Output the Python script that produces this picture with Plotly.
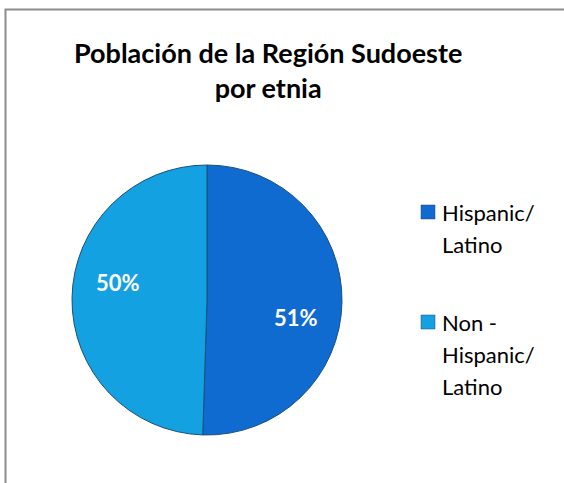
import math
import plotly.graph_objects as go

# ---- data ----
categories = ["Hispanic/Latino", "Non - Hispanic/Latino"]
legend_labels = ["Hispanic/<br>Latino", "Non -<br>Hispanic/<br>Latino"]
values = [50.5, 49.5]
pct_labels = ["51%", "50%"]
colors = ["#0F6BD0", "#14A1E2"]
title_text = "Población de la Región Sudoeste<br>por etnia"

W, H = 564, 483

# pie geometry (pixels)
cx, cy, R = 207, 300, 135

fig = go.Figure()
fig.add_trace(go.Pie(
    labels=categories,
    values=values,
    textinfo="none",
    marker=dict(colors=colors, line=dict(color="#1B4F7E", width=1)),
    sort=False,
    direction="clockwise",
    rotation=0,
    showlegend=False,
    hoverinfo="label+percent",
    domain=dict(x=[(cx - R) / W, (cx + R) / W], y=[1 - (cy + R) / H, 1 - (cy - R) / H]),
))

# slice labels placed along each slice's bisector
total = sum(values)
cum = 0.0
for v, txt in zip(values, pct_labels):
    mid = (cum + v / 2) / total * 360 + 10  # degrees clockwise from 12 o'clock
    cum += v
    rr = 0.67 * R
    px = cx + rr * math.sin(math.radians(mid))
    py = cy - rr * math.cos(math.radians(mid))
    fig.add_annotation(text="<b>" + txt + "</b>", xref="paper", yref="paper",
                       x=px / W, y=1 - py / H, xanchor="center", yanchor="middle",
                       showarrow=False,
                       font=dict(family="Lato", size=22, color="white"))

# frame
fig.add_shape(type="rect", xref="paper", yref="paper",
              x0=5.5 / W, x1=1.02, y0=-0.02, y1=1 - 9.5 / H,
              line=dict(color="#8C8C8C", width=2), fillcolor="rgba(0,0,0,0)")

# title
fig.add_annotation(text="<b>" + title_text + "</b>", xref="paper", yref="paper",
                   x=268 / W, y=1 - 70 / H, xanchor="center", yanchor="middle",
                   showarrow=False, align="center",
                   font=dict(family="Lato", size=27, color="black"))

# legend (manual)
legend_top = [212, 322]
line_gap = 32
for i, lab in enumerate(legend_labels):
    y0 = legend_top[i]
    fig.add_shape(type="rect", xref="paper", yref="paper",
                  x0=421 / W, x1=435 / W, y0=1 - (y0 + 7) / H, y1=1 - (y0 - 7) / H,
                  fillcolor=colors[i], line=dict(color="#1B4F7E", width=0.5))
    for j, line in enumerate(lab.split("<br>")):
        fig.add_annotation(text=line, xref="paper", yref="paper",
                           x=440 / W, y=1 - (y0 + j * line_gap) / H,
                           xanchor="left", yanchor="middle", showarrow=False,
                           font=dict(family="Lato", size=22, color="black"))

fig.update_layout(
    width=W, height=H,
    margin=dict(l=0, r=0, t=0, b=0),
    paper_bgcolor="white",
    plot_bgcolor="white",
)

fig.write_html("out.html", config={"displayModeBar": False},
               post_script="document.body.style.margin='0px';document.body.style.overflow='hidden';")
